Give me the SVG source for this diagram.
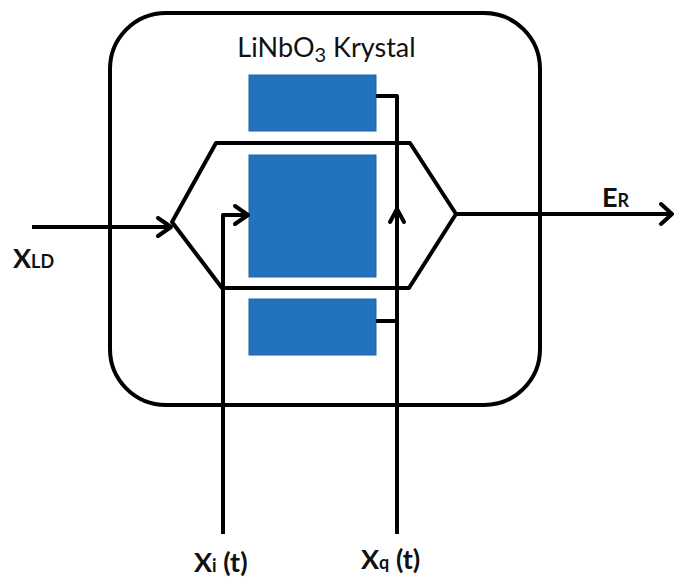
<svg xmlns="http://www.w3.org/2000/svg" width="674" height="578" viewBox="0 0 674 578">
<style>
.w{fill:none;stroke:#000;stroke-width:4;stroke-linejoin:round}
.h{fill:none;stroke:#000;stroke-width:4;stroke-linecap:round;stroke-linejoin:round}
.b{fill:#2272bd;stroke:#1f62a6;stroke-width:1}
text{font-family:Lato,"Open Sans",sans-serif;fill:#111}
.l{font-weight:700;font-size:27px}
.s{font-weight:700;font-size:18px}
</style>
<rect width="674" height="578" fill="#fff"/>
<g id="crystal"><rect class="w" x="110" y="13" width="430" height="392" rx="56" ry="56"/>
<text x="326.500" y="57" text-anchor="middle" font-size="27">LiNbO<tspan font-size="20" dy="5">3</tspan><tspan dy="-5"> Krystal</tspan></text></g>
<g id="electrode-top"><rect class="b" x="249" y="75" width="127" height="56"/></g>
<g id="electrode-middle"><rect class="b" x="249" y="155" width="127" height="122"/></g>
<g id="electrode-bottom"><rect class="b" x="249" y="299" width="127" height="56"/></g>
<g id="waveguide"><path class="w" d="M172 222L216 143H410L456 214L409 288H222Z"/></g>
<g id="connectors">
<path class="w" d="M32 227H170"/><path class="h" d="M158 218L171 227L158 236"/>
<path class="w" d="M456 214H671"/><path class="h" d="M661 204L672 214L661 224"/>
<path class="w" d="M223 534V215H247"/><path class="h" d="M235 206L248 215L235 224"/>
<path class="w" d="M376 96H397V534"/><path class="w" d="M376 321H397"/><path class="h" d="M390 222L397 209L404 222"/>
</g>
<g id="label-xld"><text class="l" x="13" y="268">X<tspan class="s">LD</tspan></text></g>
<g id="label-er"><text class="l" x="602" y="207">E<tspan class="s">R</tspan></text></g>
<g id="label-xi"><text class="l" x="194" y="572">X<tspan class="s">i</tspan> (t)</text></g>
<g id="label-xq"><text class="l" x="361" y="569">X<tspan class="s">q</tspan> (t)</text></g>
</svg>
